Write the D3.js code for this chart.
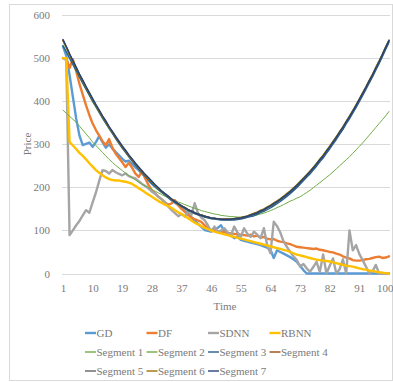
<!DOCTYPE html>
<html><head><meta charset="utf-8">
<script src="https://cdn.jsdelivr.net/npm/d3@7"></script>
<style>html,body{margin:0;padding:0;background:#fff;}svg{display:block;}</style>
</head><body>
<script>
const time = d3.range(1, 101);
const xTicks = [1,10,19,28,37,46,55,64,73,82,91,100];
const yTicks = [0,100,200,300,400,500,600];

const GD = [527,505,460,410,360,320,298,301,304,294,305,319,305,292,300,290,282,274,266,260,262,254,246,240,232,224,216,208,201,195,190,184,177,170,164,159,152,145,138,131,123,115,108,101,99,97,102,106,112,98,95,88,82,86,78,76,74,72,70,68,66,63,60,55,36,54,50,46,42,38,33,27,18,8,0,0,0,0,0,0,0,0,0,0,0,0,0,0,0,0,0,0,0,0,0,0,0,0,0,0];
const DF = [500,498,477,497,470,440,415,390,368,348,333,320,307,298,312,292,278,268,258,247,257,245,232,224,238,220,205,193,186,178,172,165,159,163,170,158,150,143,136,130,126,123,120,112,105,102,100,98,97,96,94,93,92,91,90,89,88,90,86,88,83,85,81,79,80,76,74,73,70,68,65,62,61,60,59,58,57,58,55,54,52,50,49,46,44,40,37,35,31,30,30,31,33,34,36,38,39,36,37,40];
const SDNN = [500,495,89,100,112,122,135,147,141,165,188,215,240,238,232,240,235,231,228,232,226,223,221,214,208,203,197,190,185,178,172,165,155,147,140,133,138,132,143,136,163,140,130,124,112,97,109,96,100,105,95,89,109,95,85,105,92,85,97,90,82,105,66,47,120,110,95,74,62,50,40,31,16,22,12,4,15,27,4,44,0,18,35,0,10,33,0,100,54,66,45,31,16,0,5,20,0,0,0,0];
const RBNN = [500,500,305,297,289,280,273,265,256,248,240,234,228,223,219,217,216,216,214,213,211,208,203,198,193,188,183,178,173,168,164,160,156,152,147,142,138,133,128,123,118,114,110,106,103,100,97,95,93,91,89,87,85,83,81,79,77,75,73,71,69,67,65,63,61,59,57,55,53,50,47,44,42,40,38,36,34,32,31,30,29,28,26,24,22,20,18,17,16,14,12,10,9,7,6,4,3,2,1,0];
const Seg1 = [379,372,365,358,351,342,333,324,315,305,297,289,281,273,265,258,251,245,239,233,227,222,217,212,207,203,199,195,191,187,183,179,176,172,169,166,163,160,157,154,151,149,146,144,142,140,138,137,135,134,133,132,132,131,131,131,132,133,134,136,138,140,143,146,149,153,156,160,164,168,171,175,178,183,188,193,199,205,211,217,223,229,236,243,250,257,264,271,279,287,295,303,312,321,330,339,348,357,366,376];
const Seg2 = [530,516,500,485,470,455,441,427,413,399,386,373,360,348,336,325,313,302,291,281,271,262,252,243,234,226,218,210,202,195,188,182,176,170,165,160,155,151,146,143,139,136,134,131,129,128,127,126,125,125,125,125,126,127,128,130,132,134,136,139,143,146,151,155,160,165,170,176,182,188,195,202,210,218,226,234,243,252,262,271,282,292,303,314,326,337,350,362,375,388,402,416,430,445,459,475,490,506,523,538];
const Seg3 = [528,514,499,485,471,456,442,428,414,400,387,374,361,349,337,325,313,302,291,281,271,261,251,242,233,225,217,209,202,195,188,182,176,170,165,160,155,151,146,143,139,136,134,131,129,127,126,125,124,124,124,124,124,125,126,128,130,132,134,137,141,144,148,152,157,162,167,173,179,185,192,199,207,215,223,231,240,249,259,268,279,289,300,311,323,334,347,359,372,385,399,413,427,442,456,472,487,503,520,536];
const Seg4 = [541,525,508,492,477,461,447,432,418,404,390,377,364,352,339,328,316,305,294,284,273,264,254,245,236,228,220,212,204,197,190,184,178,172,167,162,157,153,148,145,141,138,136,133,131,129,128,127,126,126,126,126,127,128,129,131,133,136,138,141,145,148,153,157,162,167,172,178,184,190,197,204,212,220,228,236,245,254,264,273,284,294,305,316,328,339,352,364,377,390,404,418,432,447,461,477,492,508,525,541];
const Seg5 = [542,526,509,493,478,462,448,433,419,405,391,378,365,353,340,329,317,306,295,285,274,265,255,246,237,229,221,213,205,198,191,185,179,173,168,162,157,153,148,145,141,138,136,133,131,129,128,127,126,125,125,125,126,127,128,130,132,135,137,140,144,147,152,156,161,166,171,177,183,189,196,203,211,219,227,235,244,253,263,272,283,293,304,315,327,338,351,363,376,389,403,417,431,446,460,476,491,507,524,540];
const Seg6 = [540,525,508,492,477,461,447,432,418,404,390,377,364,352,339,328,316,305,294,284,273,264,254,245,236,228,220,212,204,197,190,184,178,172,167,162,157,153,148,145,141,138,136,133,131,129,128,127,126,126,127,127,128,129,130,132,134,137,140,143,147,150,155,159,164,169,174,180,186,192,199,206,214,222,230,238,247,256,266,275,286,296,307,318,330,341,354,366,379,392,406,420,434,449,463,479,494,510,527,542];
const Seg7 = [543,527,510,494,479,463,449,434,420,406,392,379,366,354,341,330,318,307,296,286,275,266,256,247,238,230,222,214,206,199,191,185,179,173,167,162,157,153,148,145,141,138,135,133,131,129,128,127,126,126,126,126,127,128,129,131,133,136,138,141,145,148,153,157,162,167,172,178,184,190,197,204,212,220,228,236,245,254,264,273,284,294,305,316,328,339,352,364,377,390,404,418,432,447,461,477,492,508,525,541];

const seriesNames = ["GD","DF","SDNN","RBNN","Segment 1","Segment 2","Segment 3","Segment 4","Segment 5","Segment 6","Segment 7"];
const seriesValues = [GD,DF,SDNN,RBNN,Seg1,Seg2,Seg3,Seg4,Seg5,Seg6,Seg7];
const seriesColors = ["#5B9BD5","#ED7D31","#A5A5A5","#FFC000","#70AD47","#70AD47","#255E91","#9E480E","#636363","#997300","#264478"];
const seriesWidths = [2.4,2.4,2.4,2.4,1,1.2,1.3,1.3,1.3,1.3,1.5];

const W = 393, H = 382;
const svg = d3.select("body").append("svg").attr("width", W).attr("height", H);
const font = "'Liberation Serif', 'Times New Roman', serif";
const textColor = "#7a7a7a";

svg.append("rect").attr("x", 9.5).attr("y", 4.5).attr("width", 383).attr("height", 376)
  .attr("fill", "#fff").attr("stroke", "#d9d9d9").attr("stroke-width", 1);

const x = d3.scaleLinear().domain([1, 100]).range([63, 389]);
const y = d3.scaleLinear().domain([0, 600]).range([273.5, 15]);

// gridlines
svg.append("g").selectAll("line").data(yTicks).join("line")
  .attr("x1", 62).attr("x2", 390)
  .attr("y1", d => Math.round(y(d)) + 0.5).attr("y2", d => Math.round(y(d)) + 0.5)
  .attr("stroke", "#d9d9d9").attr("stroke-width", 1);

// y axis labels
const yAxis = d3.axisLeft(y).tickValues(yTicks).tickSize(0).tickPadding(0).tickFormat(d3.format("d"));
const gy = svg.append("g").attr("transform", "translate(50,0)").call(yAxis);
gy.select(".domain").remove();
gy.selectAll("text").attr("font-family", font).attr("font-size", 11).attr("fill", textColor);

// x axis labels
const xAxis = d3.axisBottom(x).tickValues(xTicks).tickSize(0).tickPadding(0).tickFormat(d3.format("d"));
const gx = svg.append("g").attr("transform", "translate(0,284)").call(xAxis);
gx.select(".domain").remove();
gx.selectAll("text").attr("font-family", font).attr("font-size", 11).attr("fill", textColor);
gx.selectAll(".tick").filter(d => d === 100).select("text")
  .attr("text-anchor", "end").attr("x", 4);

// axis titles
svg.append("text").attr("x", 225).attr("y", 310).attr("text-anchor", "middle")
  .attr("font-family", font).attr("font-size", 11).attr("fill", textColor).text("Time");
svg.append("text").attr("transform", "translate(31,144) rotate(-90)").attr("text-anchor", "middle")
  .attr("font-family", font).attr("font-size", 11).attr("fill", textColor).text("Price");

// lines
const line = d3.line().x((d, i) => x(time[i])).y(d => y(d));
const gLines = svg.append("g");
seriesValues.forEach((vals, k) => {
  gLines.append("path").datum(vals)
    .attr("d", line).attr("fill", "none")
    .attr("stroke", seriesColors[k]).attr("stroke-width", seriesWidths[k])
    .attr("stroke-linejoin", "round").attr("stroke-linecap", "round");
});

// legend
const legX = [85, 146.5, 208, 269.5];
const legY = [333, 352, 371];
const leg = svg.append("g");
seriesNames.forEach((name, k) => {
  const col = k < 4 ? k : (k - 4) % 4;
  const row = k < 4 ? 0 : (k < 8 ? 1 : 2);
  const g = leg.append("g").attr("transform", `translate(${legX[col]},${legY[row]})`);
  g.append("line").attr("x1", 0).attr("x2", 11).attr("y1", 0).attr("y2", 0)
    .attr("stroke", seriesColors[k]).attr("stroke-width", k < 4 ? 2.4 : 1.4);
  g.append("text").attr("x", 11.5).attr("y", 3.8)
    .attr("font-family", font).attr("font-size", 11).attr("fill", textColor).text(name);
});
</script>
</body></html>
